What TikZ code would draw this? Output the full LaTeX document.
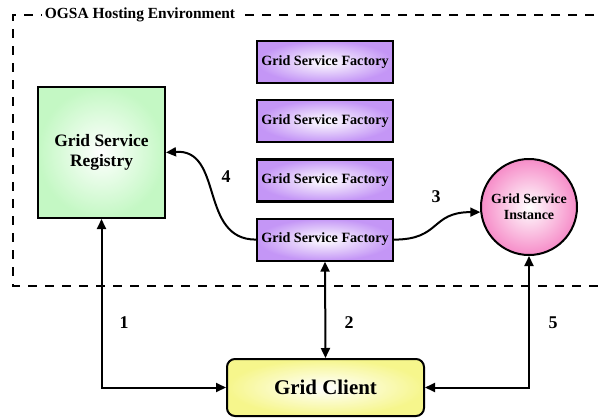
\documentclass[tikz,border=0pt]{standalone}
\usepackage{fontspec}
\setmainfont{Liberation Serif}
\usetikzlibrary{arrows.meta, positioning, shapes.misc}
\definecolor{factoryviolet}{RGB}{196,150,246}
\definecolor{registrygreen}{RGB}{196,248,196}
\definecolor{instancepink}{RGB}{246,140,200}
\definecolor{clientyellow}{RGB}{246,246,140}
\tikzset{%
	factory/.style={draw, rectangle, line width=2.2bp, minimum width=136bp, minimum height=42bp,%
		inner sep=0bp, shade, inner color=white, outer color=factoryviolet,%
		font=\fontsize{14.2}{16}\selectfont\bfseries},
	registry/.style={draw, rectangle, line width=2bp, minimum width=127bp, minimum height=131bp,%
		align=center, shade, inner color=white, outer color=registrygreen,%
		font=\fontsize{17.5}{20}\selectfont\bfseries},
	instance/.style={draw, circle, line width=2bp, minimum size=96bp, inner sep=0bp,%
		align=center, shade, inner color=white, outer color=instancepink,%
		font=\fontsize{14}{16}\selectfont\bfseries},
	client/.style={draw, rectangle, rounded corners=8bp, line width=2bp, minimum width=197bp,%
		minimum height=57bp, shade, inner color=white, outer color=clientyellow,%
		font=\fontsize{21}{24}\selectfont\bfseries},
	link/.style={line width=2bp, >={Triangle[length=10bp, width=9bp]}},
	frame/.style={line width=2.8bp, dash pattern=on 9bp off 8bp},
	lbl/.style={font=\fontsize{18}{20}\selectfont\bfseries},
	title/.style={fill=white, inner sep=3bp, font=\fontsize{15.5}{17}\selectfont\bfseries}
}
\begin{document}
\begin{tikzpicture}[x=1bp, y=1bp]
	\useasboundingbox (0,0) rectangle (601,417);

	% hosting environment
	\draw[frame] (594,402) -- (13,402) -- (13,131) -- (601,131);
	\node[title] (env) at (140,402) {OGSA Hosting Environment};

	\node[registry] (reg) at (101.5,264.5) {Grid Service\\Registry};
	\node[factory] (f1) at (325,355) {Grid Service Factory};
	\node[factory, below=15bp of f1] (f2) {Grid Service Factory};
	\node[factory, below=15bp of f2] (f3) {Grid Service Factory};
	\node[factory, below=15bp of f3] (f4) {Grid Service Factory};
	\node[instance] (inst) at (529,210) {Grid Service\\Instance};
	\node[client] (cl) at (325.5,29.5) {Grid Client};

	\draw[link, <->] (reg.south) |- (cl.west);
	\draw[link, <->] (f4.south) -- (cl.north);
	\draw[link, <->] (inst.south) |- (cl.east);
	\draw[link, ->] (f4.east) .. controls +(47,0) and +(-50,0) .. (inst.186);
	\draw[link, ->] (f4.west) .. controls +(-57,0) and +(58,4) .. (reg.east);

	\node[lbl] (n1) at (124,94) {1};
	\node[lbl] (n2) at (349,94) {2};
	\node[lbl] (n3) at (436,220) {3};
	\node[lbl] (n4) at (226,240) {4};
	\node[lbl] (n5) at (553,94) {5};
\end{tikzpicture}
\end{document}
